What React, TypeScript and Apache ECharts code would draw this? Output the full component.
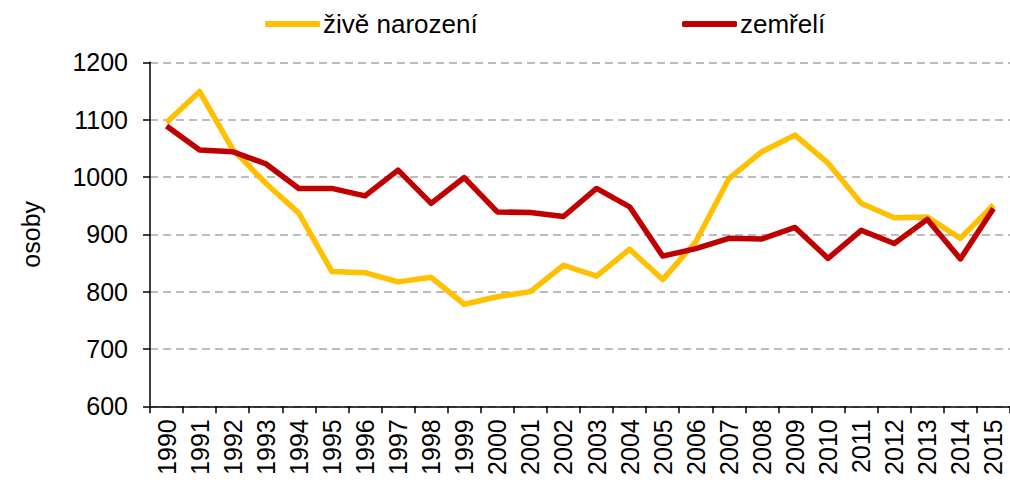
import React, { useEffect, useRef } from "react";
import * as echarts from "echarts";

const years = ["1990","1991","1992","1993","1994","1995","1996","1997","1998","1999","2000","2001","2002","2003","2004","2005","2006","2007","2008","2009","2010","2011","2012","2013","2014","2015"];
const births = [1095, 1149, 1048, 989, 937, 835, 833, 817, 825, 778, 791, 800, 846, 827, 874, 821, 887, 997, 1044, 1073, 1024, 954, 929, 930, 893, 951];
const deaths = [1089, 1047, 1044, 1023, 980, 980, 967, 1012, 954, 999, 939, 938, 931, 980, 948, 862, 875, 893, 892, 912, 858, 907, 884, 926, 857, 945];
const seriesNames = ["živě narození", "zemřelí"];
const yTicks = { min: 600, max: 1200, interval: 100 };

const FONT = "'Liberation Sans', Arial, sans-serif";

export default function App() {
  const ref = useRef<HTMLDivElement>(null);
  useEffect(() => {
    if (!ref.current) return;
    const chart = echarts.init(ref.current, null, { renderer: "svg" });
    chart.setOption({
      animation: false,
      backgroundColor: "#ffffff",
      textStyle: { fontFamily: FONT },
      grid: { left: 150, top: 62.3, width: 866.7, height: 344 },
      legend: [
        {
          data: [seriesNames[0]],
          left: 260,
          top: 6,
          icon: "roundRect",
          itemWidth: 55,
          itemHeight: 6,
          itemGap: 4,
          textStyle: { fontSize: 26, color: "#000", fontFamily: FONT, padding: [0, 0, 0, -2] },
        },
        {
          data: [seriesNames[1]],
          left: 677,
          top: 6,
          icon: "roundRect",
          itemWidth: 55,
          itemHeight: 6,
          itemGap: 4,
          textStyle: { fontSize: 26, color: "#000", fontFamily: FONT, padding: [0, 0, 0, -2] },
        },
      ],
      xAxis: {
        type: "category",
        data: years,
        boundaryGap: true,
        axisLine: { lineStyle: { color: "#000", width: 1.5 } },
        axisTick: { show: true, length: 7, lineStyle: { color: "#000", width: 1.5 } },
        axisLabel: { rotate: 90, fontSize: 25, color: "#000", margin: 13, interval: 0, fontFamily: FONT },
        splitLine: { show: false },
      },
      yAxis: {
        type: "value",
        min: yTicks.min,
        max: yTicks.max,
        interval: yTicks.interval,
        name: "osoby",
        nameLocation: "middle",
        nameRotate: 90,
        nameGap: 107,
        nameTextStyle: { fontSize: 25, color: "#000", fontFamily: FONT },
        axisLine: { show: true, lineStyle: { color: "#000", width: 1.5 } },
        axisTick: { show: true, length: 7, lineStyle: { color: "#000", width: 1.5 } },
        axisLabel: {
          fontSize: 25,
          color: "#000",
          margin: 22,
          fontFamily: FONT,
          formatter: (v: number) => String(v),
        },
        splitLine: { show: true, lineStyle: { color: "#a6a6a6", width: 1.5, type: [8, 5] } },
      },
      series: [
        {
          name: seriesNames[0],
          type: "line",
          data: births,
          symbol: "none",
          lineStyle: { color: "#ffc000", width: 5.5, join: "round" },
          itemStyle: { color: "#ffc000" },
          z: 2,
        },
        {
          name: seriesNames[1],
          type: "line",
          data: deaths,
          symbol: "none",
          lineStyle: { color: "#c00000", width: 5.5, join: "round" },
          itemStyle: { color: "#c00000" },
          z: 3,
        },
      ],
    });
    return () => chart.dispose();
  }, []);
  return (
    <div
      ref={ref}
      style={{ position: "absolute", left: 0, top: 0, width: 1010, height: 482 }}
    />
  );
}
